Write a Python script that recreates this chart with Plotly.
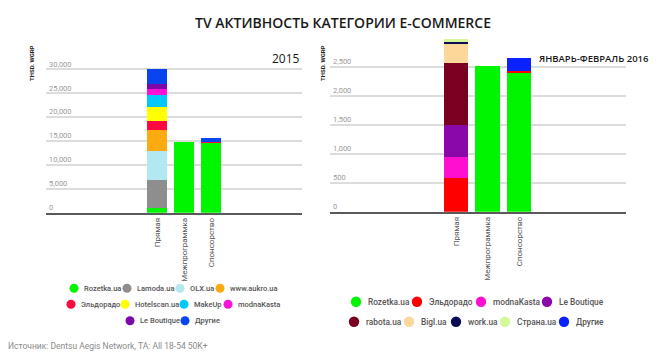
import plotly.graph_objects as go

# ---------------- data ----------------
categories = ["Прямая", "Межпрограммка", "Спонсорство"]

names_2015 = ["Rozetka.ua", "Lamoda.ua", "OLX.ua", "www.aukro.ua", "Эльдорадо",
              "Hotelscan.ua", "MakeUp", "modnaKasta", "Le Boutique", "Другие"]
colors_2015 = ["#00f500", "#8e8e8e", "#b2e9f1", "#fbab10", "#ff0840",
               "#ffff00", "#00c8fb", "#ff10d8", "#7d08aa", "#0a44ee"]
rozetka_2015 = [1050, 14700, 14650]
lamoda_2015 = [5790, 0, 0]
olx_2015 = [6070, 0, 0]
aukro_2015 = [4450, 0, 0]
eldorado_2015 = [1890, 0, 200]
hotelscan_2015 = [2860, 0, 0]
makeup_2015 = [2590, 0, 0]
modnakasta_2015 = [1190, 0, 0]
leboutique_2015 = [1110, 0, 0]
other_2015 = [3100, 0, 700]
values_2015 = [rozetka_2015, lamoda_2015, olx_2015, aukro_2015, eldorado_2015,
               hotelscan_2015, makeup_2015, modnakasta_2015, leboutique_2015, other_2015]

names_2016 = ["Rozetka.ua", "Эльдорадо", "modnaKasta", "Le Boutique", "rabota.ua",
              "Bigl.ua", "work.ua", "Страна.ua", "Другие"]
colors_2016 = ["#00f500", "#ff0000", "#ff10d0", "#8a08a8", "#7a0020",
               "#fdd69a", "#0c0c52", "#d6f79a", "#0a22ff"]
rozetka_2016 = [0, 2510, 2385]
eldorado_2016 = [575, 0, 40]
modnakasta_2016 = [368, 0, 0]
leboutique_2016 = [557, 0, 0]
rabota_2016 = [1058, 0, 0]
bigl_2016 = [355, 0, 0]
work_2016 = [30, 0, 0]
strana_2016 = [29, 0, 0]
other_2016 = [0, 0, 225]
values_2016 = [rozetka_2016, eldorado_2016, modnakasta_2016, leboutique_2016, rabota_2016,
               bigl_2016, work_2016, strana_2016, other_2016]

ticks_2015 = [0, 5000, 10000, 15000, 20000, 25000, 30000]
ticks_2016 = [0, 500, 1000, 1500, 2000, 2500]

# ---------------- layout helpers ----------------
W, H = 671, 356
def X(px): return px / W
def Y(py): return 1 - py / H

FONT = "Roboto, Arial, sans-serif"
TITLE_FONT = "Open Sans, Arial, sans-serif"

fig = go.Figure()
for n, c, v in zip(names_2015, colors_2015, values_2015):
    fig.add_trace(go.Bar(x=categories, y=v, name=n, marker_color=c,
                         marker_line_width=0, showlegend=False,
                         xaxis="x", yaxis="y"))
for n, c, v in zip(names_2016, colors_2016, values_2016):
    fig.add_trace(go.Bar(x=categories, y=v, name=n, marker_color=c,
                         marker_line_width=0, showlegend=False,
                         xaxis="x2", yaxis="y2"))

axis_common_x = dict(type="category", showgrid=False, showline=True, linecolor="#5a5a5a",
                     linewidth=2, ticks="", tickangle=-90,
                     tickfont=dict(family=FONT, size=8, color="#555555"), fixedrange=True)
axis_common_y = dict(showgrid=True, gridcolor="#dcdcdc", gridwidth=1.5, zeroline=False,
                     showline=False, ticks="", ticklabelposition="inside top",
                     tickfont=dict(family=FONT, size=7.5, color="#9a9a9a"),
                     tickformat=",d", fixedrange=True)

# left: 0 at 212.7px, 209.2 units per px ; right: 0 at 211.7px, 17.24 units per px
L_TOP = 34000
R_TOP = 3000
fig.update_layout(
    width=W, height=H, margin=dict(l=0, r=0, t=0, b=0),
    paper_bgcolor="white", plot_bgcolor="white",
    barmode="stack", bargap=0.23,
    xaxis=dict(axis_common_x, domain=[X(46), X(302)], range=[-4.11, 5.37], anchor="y"),
    yaxis=dict(axis_common_y, domain=[Y(212.7), Y(212.7 - L_TOP / 209.2)], range=[0, L_TOP],
               tickvals=ticks_2015, anchor="x"),
    xaxis2=dict(axis_common_x, domain=[X(330), X(626)], range=[-4.0, 5.4], anchor="y2"),
    yaxis2=dict(axis_common_y, domain=[Y(211.7), Y(211.7 - R_TOP / 17.24)], range=[0, R_TOP],
                tickvals=ticks_2016, anchor="x2"),
)

ann = []
ann.append(dict(text="TV АКТИВНОСТЬ КАТЕГОРИИ E-COMMERCE", x=X(343), y=Y(23),
                xref="paper", yref="paper", showarrow=False, xanchor="center", yanchor="middle",
                font=dict(family=TITLE_FONT, size=14, color="#1a1a1a", weight=600)))
ann.append(dict(text="2015", x=X(302), y=Y(58), xref="paper", yref="paper", showarrow=False,
                xanchor="right", yanchor="middle",
                font=dict(family=TITLE_FONT, size=12, color="#1a1a1a")))
ann.append(dict(text="ЯНВАРЬ-ФЕВРАЛЬ 2016", x=X(537), y=Y(58), xref="paper", yref="paper",
                showarrow=False, xanchor="left", yanchor="middle",
                font=dict(family=TITLE_FONT, size=9.5, color="#1a1a1a", weight=600)))
for xpx in (32, 323):
    ann.append(dict(text="THSD. WGRP", x=X(xpx), y=Y(63), xref="paper", yref="paper",
                    showarrow=False, textangle=-90, xanchor="center", yanchor="middle",
                    font=dict(family=FONT, size=6, color="#222222", weight=700)))
ann.append(dict(text="Источник: Dentsu Aegis Network, TA: All 18-54 50K+", x=X(6), y=Y(346),
                xref="paper", yref="paper", showarrow=False, xanchor="left", yanchor="middle",
                font=dict(family=FONT, size=8.5, color="#8a8a8a")))

# ---------------- custom legends (rows centred like the original) ----------------
legend_rows_2015 = [(288.3, [74, 127, 180, 220]), (304.3, [71, 125, 184, 228]), (320.7, [130, 185])]
legend_rows_2016 = [(301.7, [356, 417, 481, 547]), (321.7, [354, 409, 456, 505, 564])]

shapes = []
def draw_legend(names, colors, rows, r, gap, fsize):
    i = 0
    for ypx, xs in rows:
        for xc in xs:
            shapes.append(dict(type="circle", xref="paper", yref="paper",
                               x0=X(xc - r), x1=X(xc + r), y0=Y(ypx + r), y1=Y(ypx - r),
                               fillcolor=colors[i], line=dict(width=0)))
            ann.append(dict(text=names[i], x=X(xc + gap), y=Y(ypx), xref="paper", yref="paper",
                            showarrow=False, xanchor="left", yanchor="middle",
                            font=dict(family=FONT, size=fsize, color="#555555", weight=500)))
            i += 1

draw_legend(names_2015, colors_2015, legend_rows_2015, 4.5, 8, 7.5)
draw_legend(names_2016, colors_2016, legend_rows_2016, 5.2, 10, 8.3)

fig.update_layout(annotations=ann, shapes=shapes)
fig.write_html("out.html", config={"displayModeBar": False},
               post_script="document.body.style.margin='0';")
